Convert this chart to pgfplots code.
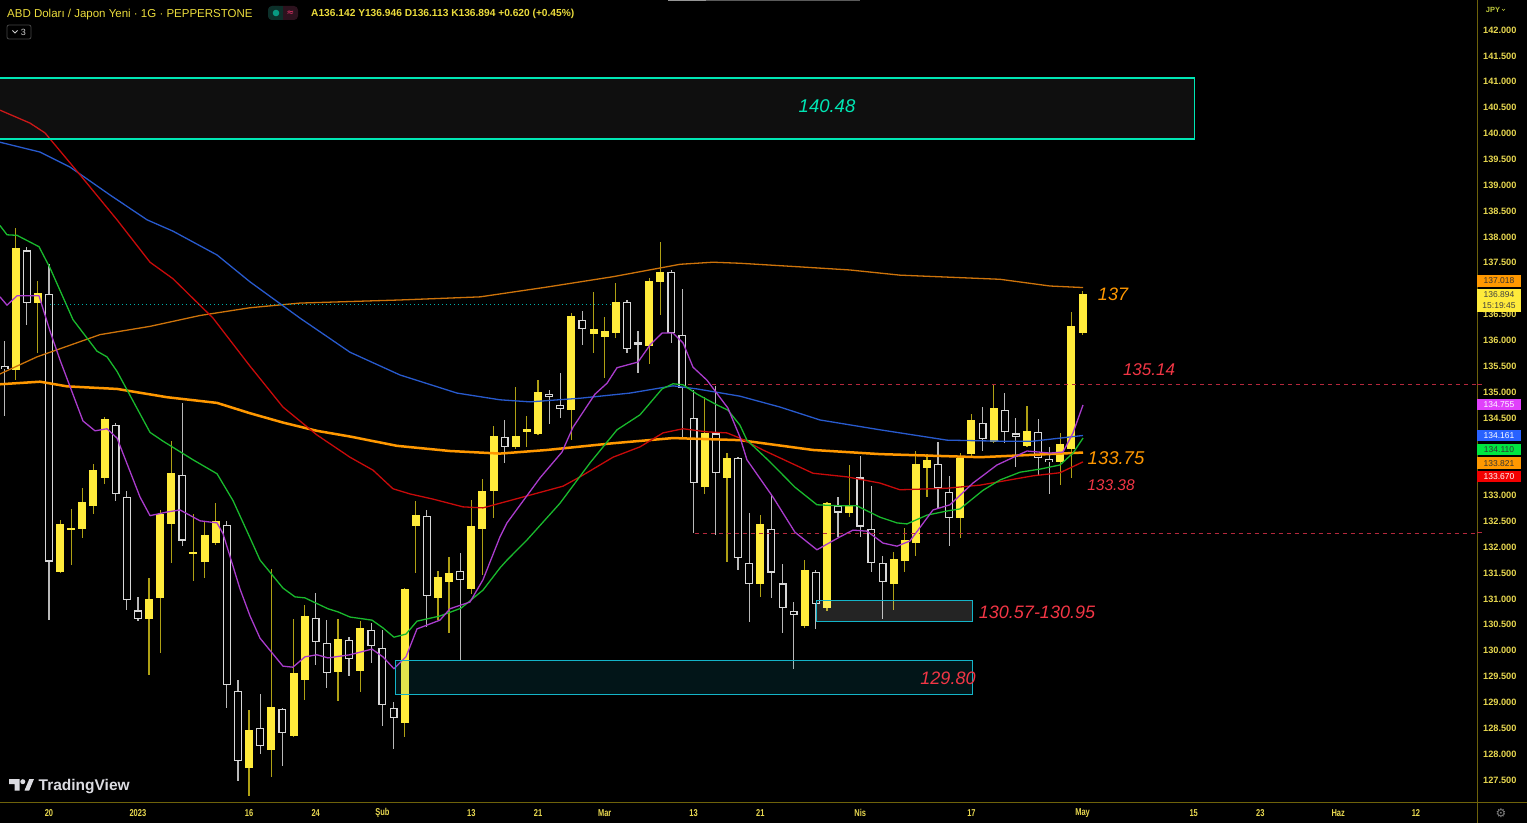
\documentclass[border=0pt]{standalone}
\usepackage{pgfplots}
\pgfplotsset{compat=1.18}
\usepackage{pgfplotstable}
\usepackage{fontspec}
\setmainfont{Liberation Sans}
\newfontfamily\djv{DejaVu Sans}
\newfontfamily\narrowf[FakeStretch=0.75]{Liberation Sans}

\definecolor{cup}{RGB}{255,235,59}
\definecolor{wup}{RGB}{175,160,20}
\definecolor{cdn}{RGB}{215,215,215}
\definecolor{wdn}{RGB}{185,185,185}
\definecolor{mag}{RGB}{170,60,205}
\definecolor{grn}{RGB}{25,185,45}
\definecolor{blu}{RGB}{40,90,205}
\definecolor{redma}{RGB}{200,10,10}
\definecolor{org}{RGB}{255,152,0}
\definecolor{org2}{RGB}{205,115,10}
\definecolor{crim}{RGB}{242,54,69}
\definecolor{dred}{RGB}{180,40,60}
\definecolor{topb}{RGB}{0,230,180}
\definecolor{cyanb}{RGB}{20,180,200}
\definecolor{dotc}{RGB}{0,175,170}
\definecolor{axt}{RGB}{232,216,80}
\definecolor{axl}{RGB}{110,98,10}
\definecolor{hdr}{RGB}{235,220,60}
\definecolor{tvg}{RGB}{220,220,225}
\definecolor{tagmag}{RGB}{224,64,251}
\definecolor{tagblu}{RGB}{41,98,255}
\definecolor{taggrn}{RGB}{0,230,64}
\definecolor{tagred}{RGB}{242,0,0}
\definecolor{pillr}{RGB}{45,18,30}
\definecolor{pillg}{RGB}{12,48,42}
\definecolor{pilldot}{RGB}{8,153,129}
\definecolor{pilltxt}{RGB}{242,54,110}
\definecolor{boxg}{RGB}{70,70,70}
\definecolor{lgray}{RGB}{205,205,205}
\definecolor{bar1}{RGB}{90,90,90}
\definecolor{bar2}{RGB}{150,150,150}
\definecolor{jpyc}{RGB}{190,200,60}
\definecolor{gearc}{RGB}{130,130,130}

% up candles: index (trading day), open, high, low, close
\pgfplotstableread{
i O H L C
-3 135.43 138.17 135.24 137.79
-1 136.72 137.15 135.75 136.91
1 131.53 132.53 131.50 132.45
2 132.33 132.73 131.65 132.38
3 132.36 133.14 132.17 132.88
4 132.80 133.60 132.65 133.50
5 133.33 134.51 133.22 134.48
9 130.61 131.41 129.53 131.00
10 131.02 132.72 129.95 132.65
11 132.45 134.06 131.70 133.43
13 131.87 132.65 131.34 131.90
14 131.72 132.48 131.41 132.23
15 132.09 132.86 132.05 132.51
18 127.74 128.85 127.20 128.47
20 128.08 131.57 127.56 128.92
22 128.35 130.61 128.33 129.57
23 129.43 130.88 129.05 130.68
26 129.59 130.62 129.03 130.22
28 129.61 130.58 129.21 130.43
32 128.61 131.22 128.34 131.19
33 132.41 132.90 131.51 132.62
35 131.02 131.54 130.59 131.43
36 131.33 131.82 130.35 131.51
38 131.19 132.91 131.10 132.42
39 132.35 133.31 131.46 133.09
40 133.09 134.35 132.56 134.16
42 133.93 135.10 133.90 134.15
43 134.22 134.54 133.93 134.28
44 134.19 135.23 134.17 135.01
47 134.65 136.52 134.07 136.47
49 136.12 136.93 135.75 136.22
50 136.06 136.46 135.27 136.18
51 136.14 137.10 136.04 136.75
54 135.89 137.20 135.54 137.15
55 137.13 137.91 136.49 137.33
59 133.17 134.91 133.03 134.20
61 133.33 133.83 131.72 133.73
64 131.28 132.62 131.04 132.45
68 130.48 131.75 130.43 131.55
70 130.82 132.88 130.77 132.86
72 132.66 133.59 132.58 132.82
76 131.29 131.90 130.79 131.77
77 131.73 132.37 131.53 132.14
78 132.09 133.86 131.84 133.60
79 133.54 133.80 132.98 133.69
82 132.56 133.83 132.18 133.73
83 133.80 134.58 133.72 134.46
85 134.04 135.14 134.02 134.70
88 133.96 134.73 133.94 134.25
91 133.64 134.20 133.20 133.99
92 133.90 136.55 133.33 136.28
93 136.14 136.95 136.11 136.89
}\up

% down candles
\pgfplotstableread{
i O H L C
-4 135.50 135.98 134.53 135.45
-2 137.74 137.81 136.29 136.72
0 136.90 137.47 130.60 131.72
6 134.36 134.41 132.90 133.02
7 132.97 133.09 130.79 130.98
8 130.78 131.04 130.58 130.61
12 133.40 134.78 132.02 132.13
16 132.43 132.50 128.90 129.34
17 129.22 129.43 127.47 127.86
19 128.50 129.16 128.00 128.16
21 128.87 128.90 127.77 128.41
24 130.64 131.11 129.72 130.17
25 130.15 130.59 129.27 129.56
27 130.21 130.27 129.51 129.83
29 130.40 130.53 129.76 130.09
30 130.05 130.40 128.55 128.95
31 128.90 129.00 128.09 128.69
34 132.61 132.72 130.46 131.06
37 131.55 131.89 129.80 131.37
41 134.14 134.46 133.62 133.93
45 134.97 135.05 134.38 134.90
46 134.76 135.36 134.49 134.67
48 136.39 136.57 135.91 136.22
52 136.74 136.78 135.75 135.83
53 135.96 136.18 135.36 135.92
56 137.32 137.36 135.94 136.14
57 136.10 136.99 134.14 135.07
58 134.50 135.05 132.28 133.24
60 134.20 135.12 132.24 133.43
62 133.72 133.75 131.56 131.79
63 131.69 132.66 130.55 131.29
65 132.35 133.01 131.01 131.51
66 131.30 131.67 130.34 130.82
67 130.77 130.95 129.64 130.69
69 131.53 131.56 130.41 130.90
71 132.81 132.98 132.20 132.67
73 133.35 133.76 132.20 132.40
74 132.35 133.18 131.53 131.70
75 131.69 131.83 130.61 131.32
80 133.61 134.04 132.73 133.14
81 133.07 133.38 132.03 132.57
84 134.41 134.72 133.87 134.09
86 134.65 134.98 134.02 134.23
87 134.20 134.49 133.56 134.13
89 134.23 134.47 133.38 133.72
90 133.71 133.94 133.03 133.64
}\dn

\begin{document}
\begin{tikzpicture}[x=1pt,y=1pt]
\fill[black] (0,0) rectangle (1527,823);

\begin{axis}[
  at={(0pt,21pt)}, anchor=south west,
  width=1477pt, height=802pt, scale only axis,
  xmin=-4.409, xmax=128.49, ymin=127.0735, ymax=142.580,
  axis line style={draw=none}, tick style={draw=none},
  major tick length=0pt,
  ytick pos=right, yticklabel pos=right, xtick pos=bottom,
  ytick={127.5,128,128.5,129,129.5,130,130.5,131,131.5,132,132.5,133,134.5,135,135.5,136,136.5,137.5,138,138.5,139,139.5,140,140.5,141,141.5,142},
  xtick={0,8,18,24,30,38,44,50,58,64,73,83,93,103,109,116,123},
  xticklabels={20,2023,16,24,Şub,13,21,Mar,13,21,Nis,17,May,15,23,Haz,12},
  /pgf/number format/assume math mode=true,
  yticklabel style={font=\fontsize{9.2}{10}\selectfont\bfseries, text=axt, anchor=west, inner sep=0pt, xshift=6pt,
    /pgf/number format/.cd, fixed, fixed zerofill, precision=3, 1000 sep={}},
  xticklabel style={font=\narrowf\fontsize{10}{10}\selectfont\bfseries, text=axt, anchor=center, inner sep=0pt, yshift=-11pt},
]
% wicks
\addplot[draw=none, forget plot, error bars/.cd, y dir=both, y explicit, error mark=none,
  error bar style={draw=wup, line width=1.2pt}]
  table[x=i, y expr={(\thisrow{H}+\thisrow{L})/2}, y error expr={(\thisrow{H}-\thisrow{L})/2}] {\up};
\addplot[draw=none, forget plot, error bars/.cd, y dir=both, y explicit, error mark=none,
  error bar style={draw=wdn, line width=1.2pt}]
  table[x=i, y expr={(\thisrow{H}+\thisrow{L})/2}, y error expr={(\thisrow{H}-\thisrow{L})/2}] {\dn};
% bodies
\addplot[draw=none, forget plot, error bars/.cd, y dir=both, y explicit, error mark=none,
  error bar style={draw=cup, line width=8pt}]
  table[x=i, y expr={(\thisrow{O}+\thisrow{C})/2}, y error expr={max(abs(\thisrow{C}-\thisrow{O})/2,0.012)}] {\up};
\addplot[draw=none, forget plot, error bars/.cd, y dir=both, y explicit, error mark=none,
  error bar style={draw=cdn, line width=8pt}]
  table[x=i, y expr={(\thisrow{O}+\thisrow{C})/2}, y error expr={max(abs(\thisrow{C}-\thisrow{O})/2,0.012)}] {\dn};
\addplot[draw=none, forget plot, error bars/.cd, y dir=both, y explicit, error mark=none,
  error bar style={draw=black, line width=5.5pt}]
  table[x=i, y expr={(\thisrow{O}+\thisrow{C})/2}, y error expr={max(abs(\thisrow{C}-\thisrow{O})/2-0.024,0)}] {\dn};

% moving averages
\addplot[org2, line width=1.3pt, line join=round] coordinates {
(-4.41,135.35) (-1.08,135.68) (4.59,136.11) (9.09,136.27) (13.59,136.48) (18.09,136.63) (22.58,136.72) (31.58,136.78) (38.78,136.84) (44.81,137.03) (50.75,137.23) (56.78,137.47) (59.74,137.51) (62.17,137.49) (67.57,137.42) (72.07,137.36) (76.57,137.26) (85.57,137.18) (90.07,137.05) (93.04,137.02)};
\addplot[org, line width=2.5pt, line join=round] coordinates {
(-4.41,135.15) (-0.81,135.20) (1.62,135.11) (6.12,135.06) (10.62,134.90) (15.12,134.79) (18.09,134.59) (21.05,134.41) (24.11,134.25) (27.08,134.14) (31.31,133.96) (36.08,133.86) (40.58,133.81) (44.81,133.88) (50.75,134.01) (56.15,134.11) (62.17,134.07) (68.74,133.88) (74.77,133.80) (83.77,133.74) (93.04,133.83)};
\addplot[blu, line width=1.3pt, line join=round] coordinates {
(-4.41,139.83) (-0.81,139.64) (1.89,139.35) (5.49,138.81) (8.82,138.33) (11.16,138.11) (15.12,137.65) (18.09,137.13) (22.58,136.43) (27.08,135.77) (31.58,135.33) (36.71,134.98) (40.58,134.85) (43.28,134.81) (47.78,134.88) (52.28,134.98) (56.15,135.12) (58.31,135.06) (62.17,134.92) (65.77,134.71) (69.37,134.46) (74.77,134.27) (80.80,134.07) (85.57,134.05) (88.54,134.05) (93.04,134.16)};
\addplot[redma, line width=1.3pt, line join=round] coordinates {
(-4.41,140.45) (-1.71,140.20) (-0.36,140.01) (2.79,139.20) (6.12,138.33) (9.09,137.51) (11.16,137.19) (14.76,136.43) (18.09,135.50) (21.05,134.71) (24.11,134.17) (27.08,133.74) (29.15,133.49) (30.95,133.13) (32.48,133.03) (34.55,132.93) (37.25,132.78) (39.05,132.76) (40.58,132.85) (42.65,132.97) (46.25,133.18) (47.78,133.36) (50.75,133.74) (53.18,133.94) (55.25,134.21) (57.05,134.29) (59.20,134.23) (61.00,134.21) (62.17,134.11) (64.24,133.88) (68.74,133.43) (71.80,133.36) (74.77,133.24) (76.57,133.11) (80.80,133.14) (83.77,133.20) (88.54,133.38) (90.97,133.44) (93.04,133.65)};
\addplot[grn, line width=1.3pt, line join=round] coordinates {
(-4.41,138.22) (-3.78,138.04) (-2.88,138.03) (-0.90,137.81) (0.09,137.40) (2.16,136.40) (4.32,135.79) (5.22,135.68) (6.12,135.40) (9.09,134.22) (10.26,134.05) (12.96,133.69) (15.12,133.42) (16.56,132.90) (18.09,132.18) (18.99,131.75) (21.05,131.21) (22.13,131.04) (23.03,131.02) (25.10,130.81) (26.00,130.75) (27.08,130.65) (29.06,130.59) (30.05,130.44) (31.04,130.26) (32.12,130.32) (33.11,130.57) (35.18,130.67) (37.07,130.82) (39.05,131.17) (40.58,131.60) (41.21,131.75) (43.01,132.14) (45.98,132.85) (48.68,133.63) (51.11,134.27) (53.18,134.56) (55.16,135.06) (56.15,135.16) (57.05,135.14) (58.31,134.96) (60.11,134.75) (61.09,134.65) (62.17,134.36) (62.80,134.07) (64.87,133.65) (67.12,133.16) (69.10,132.82) (71.17,132.80) (72.70,132.80) (74.77,132.58) (76.30,132.47) (77.20,132.45) (79.00,132.62) (80.80,132.70) (81.97,132.74) (84.04,133.10) (85.57,133.30) (87.37,133.45) (89.17,133.51) (90.97,133.59) (92.14,133.82) (93.04,134.11)};
\addplot[mag, line width=1.3pt, line join=round] coordinates {
(-4.41,136.84) (-3.78,136.68) (-2.88,136.86) (-0.90,136.86) (0.09,136.18) (0.99,135.62) (3.06,134.44) (4.14,134.25) (5.22,134.29) (6.12,134.11) (8.19,132.97) (9.09,132.61) (10.62,132.68) (11.79,132.72) (13.59,132.51) (15.12,132.47) (15.66,132.26) (17.19,131.19) (18.09,130.67) (18.99,130.24) (21.05,129.70) (21.95,129.68) (23.03,129.88) (24.11,129.92) (25.10,129.86) (27.08,129.92) (29.06,130.03) (30.05,129.88) (31.04,129.65) (32.12,129.88) (33.11,130.42) (35.18,130.59) (36.08,130.81) (37.88,130.94) (39.05,131.37) (40.58,132.20) (41.21,132.47) (44.18,133.34) (46.16,133.84) (47.15,134.32) (49.13,134.96) (50.21,135.17) (51.11,135.47) (53.00,135.58) (54.08,135.91) (55.16,136.14) (56.15,136.14) (57.05,135.95) (57.95,135.48) (59.20,135.23) (61.09,134.69) (62.17,134.13) (62.80,133.69) (65.14,132.97) (67.12,132.29) (69.10,131.95) (71.17,132.20) (72.34,132.33) (73.60,132.31) (75.04,132.08) (76.30,132.02) (77.47,132.12) (79.54,132.72) (81.07,132.82) (83.14,133.24) (85.30,133.59) (88.00,133.86) (90.07,133.82) (91.24,133.84) (92.14,134.21) (93.04,134.75)};

% zones and levels
\addplot[draw=topb, line width=1.3pt, fill=white, fill opacity=0.06] coordinates {(-10,141.07) (103.1,141.07) (103.1,139.89) (-10,139.89)} -- cycle;
\addplot[draw=cyanb, line width=1pt, fill=cyanb, fill opacity=0.12] coordinates {(31.2,129.80) (83.1,129.80) (83.1,129.16) (31.2,129.16)} -- cycle;
\addplot[draw=cyanb, line width=1pt, fill=white, fill opacity=0.14] coordinates {(69.1,130.96) (83.1,130.96) (83.1,130.57) (69.1,130.57)} -- cycle;
\addplot[dotc, line width=1.2pt, dash pattern=on 1.2pt off 2.8pt] coordinates {(0.1,136.70) (50.5,136.70)};
\addplot[dred, line width=1pt, dash pattern=on 4pt off 4pt] coordinates {(57.5,135.14) (130,135.14)};
\addplot[dred, line width=1pt, dash pattern=on 4pt off 4pt] coordinates {(58.1,132.27) (130,132.27)};
\end{axis}

% axis frame lines
\draw[axl, line width=1pt] (0,21) -- (1527,21);
\draw[axl, line width=1pt] (1477,0) -- (1477,823);
\draw[dred, line width=1pt] (1477,438) -- (1482,438);
\draw[dred, line width=1pt] (1477,290) -- (1482,290);

% level labels
\node[text=topb, font=\fontsize{18.5}{19}\selectfont\itshape, inner sep=0] at (827,717) {140.48};
\node[text=org, font=\fontsize{18}{19}\selectfont\itshape, inner sep=0] at (1113,529) {137};
\node[text=crim, font=\fontsize{17}{18}\selectfont\itshape, inner sep=0] at (1149,453) {135.14};
\node[text=org, font=\fontsize{18.5}{19}\selectfont\itshape, inner sep=0] at (1116,365) {133.75};
\node[text=crim, font=\fontsize{15.5}{16}\selectfont\itshape, inner sep=0] at (1111,338) {133.38};
\node[text=crim, font=\fontsize{18}{19}\selectfont\itshape, inner sep=0] at (1037,211) {130.57-130.95};
\node[text=crim, font=\fontsize{18}{19}\selectfont\itshape, inner sep=0] at (948,145) {129.80};

% price tags on the right scale
\fill[org] (1477,548) rectangle (1521,536);
\node[text=black!80, font=\fontsize{8.5}{9}\selectfont, inner sep=0] at (1499,542) {137.018};
\fill[cup] (1477,534) rectangle (1521,511);
\node[text=black!75, font=\fontsize{8.5}{9}\selectfont, inner sep=0] at (1499,528) {136.894};
\node[text=black!75, font=\fontsize{8.5}{9}\selectfont, inner sep=0] at (1499,517) {15:19:45};
\fill[tagmag] (1477,424) rectangle (1521,412.5);
\node[text=white, font=\fontsize{8.5}{9}\selectfont, inner sep=0] at (1499,418.3) {134.755};
\fill[tagblu] (1477,393) rectangle (1521,382);
\node[text=white, font=\fontsize{8.5}{9}\selectfont, inner sep=0] at (1499,387.5) {134.161};
\fill[taggrn] (1477,378.5) rectangle (1521,367.5);
\node[text=black!80, font=\fontsize{8.5}{9}\selectfont, inner sep=0] at (1499,373) {134.110};
\fill[org] (1477,365.5) rectangle (1521,354);
\node[text=black!80, font=\fontsize{8.5}{9}\selectfont, inner sep=0] at (1499,359.8) {133.821};
\fill[tagred] (1477,352) rectangle (1521,340.5);
\node[text=white, font=\fontsize{8.5}{9}\selectfont, inner sep=0] at (1499,346.3) {133.670};

% header
\node[anchor=base west, inner sep=0, text=hdr, font=\fontsize{11.5}{12}\selectfont] at (7,805.5) {ABD Doları / Japon Yeni · 1G · PEPPERSTONE};
\fill[pillr, rounded corners=4pt] (268,803) rectangle (298,817);
\fill[pillg, rounded corners=4pt] (268,803) rectangle (283,817);
\fill[pillg] (279,803) rectangle (283,817);
\fill[pilldot] (276,810) circle (3.3);
\node[text=pilltxt, font=\djv\fontsize{9}{9}\selectfont, inner sep=0] at (290.5,810) {≈};
\node[anchor=base west, inner sep=0, text=hdr, font=\fontsize{10.2}{11}\selectfont\bfseries] at (311,806) {A136.142 Y136.946 D136.113 K136.894 +0.620 (+0.45\%)};
\draw[boxg, rounded corners=2pt, line width=0.8pt] (7,784) rectangle (31,798);
\draw[lgray, line width=0.8pt] (12.5,792.5) -- (15,790) -- (17.5,792.5);
\node[text=lgray, font=\fontsize{9}{9}\selectfont, inner sep=0] at (23.5,791) {3};
\fill[bar1] (668,823) rectangle (860,821.5);
\fill[bar2] (668,823) rectangle (706,821.5);
\node[text=jpyc, font=\fontsize{7.5}{8}\selectfont\bfseries, inner sep=0] at (1493,813) {JPY};
\draw[jpyc, line width=0.6pt] (1502,814) -- (1503.5,812.5) -- (1505,814);

% TradingView mark
\fill[tvg] (9,44) -- (19.5,44) -- (19.5,32.5) -- (14.5,32.5) -- (14.5,39) -- (9,39) -- cycle;
\fill[tvg] (22.8,41.3) circle (2.5);
\fill[tvg] (24.5,32.5) -- (29.3,44) -- (34,44) -- (29.2,32.5) -- cycle;
\node[anchor=base west, inner sep=0, text=tvg, font=\fontsize{15.5}{16}\selectfont\bfseries] at (38.5,32.3) {TradingView};
\node[text=gearc, font=\djv\fontsize{12}{12}\selectfont, inner sep=0] at (1501,10) {⚙};

\pgfresetboundingbox
\path[use as bounding box] (0,0) rectangle (1527,823);
\end{tikzpicture}
\end{document}
